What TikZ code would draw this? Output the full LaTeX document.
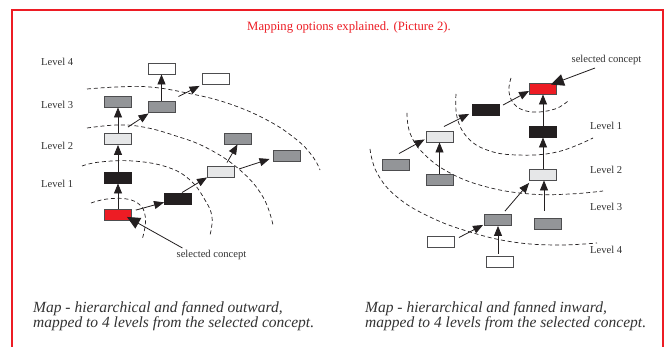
\documentclass[tikz,border=0pt]{standalone}
\usepackage{fontspec}
\setmainfont{Liberation Serif}
\usetikzlibrary{arrows.meta,calc}
\definecolor{cred}{HTML}{ED1C24}
\definecolor{cblk}{HTML}{231F20}
\definecolor{cgry}{HTML}{939598}
\definecolor{clgt}{HTML}{E6E7E8}
\definecolor{cedge}{HTML}{4D4D4F}
\definecolor{ctext}{HTML}{333333}
\begin{document}
\begin{tikzpicture}[x=1pt,y=-1pt,
  box/.style={draw=cedge,line width=0.9pt,minimum width=27pt,minimum height=11pt,inner sep=0pt},
  redbox/.style={box,fill=cred},
  blkbox/.style={box,fill=cblk,draw=cblk},
  grybox/.style={box,fill=cgry},
  lgtbox/.style={box,fill=clgt},
  whtbox/.style={box,fill=white},
  arr/.style={draw=cblk,line width=0.8pt,-{Triangle[length=10pt,width=8pt]}},
  bigarr/.style={draw=cblk,line width=0.8pt,-{Triangle[length=13pt,width=12pt]}},
  dasharc/.style={draw=cblk,line width=0.7pt,dash pattern=on 4pt off 2.8pt},
  lvl/.style={font=\fontsize{10.6}{12}\selectfont,text=ctext,inner sep=0pt,anchor=west},
  lbl/.style={font=\fontsize{10.6}{12}\selectfont,text=ctext,inner sep=0pt},
  captext/.style={font=\fontsize{15.5}{15.5}\selectfont\itshape,text=ctext,inner sep=0pt,anchor=base west},
  ttl/.style={font=\fontsize{12.7}{14}\selectfont,text=cred,inner sep=0pt}
]
\useasboundingbox (0,0) rectangle (668,347);
\fill[white] (0,0) rectangle (668,347);
\draw[cred,line width=1.2pt] (12,360) -- (12,10) -- (663,10) -- (663,360);

\node[ttl] (T) at (349,27) {Mapping options explained. (Picture 2).};

% ---------- left dashed arcs
\draw[dasharc] plot[smooth,tension=0.7] coordinates {(91,203) (107,199) (127,199) (140,205) (145,215) (145,227) (142,240)};
\draw[dasharc] plot[smooth,tension=0.7] coordinates {(82,166) (100,162) (133,161) (167,167) (190,180) (205,200) (212,217) (210,235)};
\draw[dasharc] plot[smooth,tension=0.7] coordinates {(87,128) (117,125) (143,127) (173,135) (207,148) (240,170) (263,197) (273,225)};
\draw[dasharc] plot[smooth,tension=0.7] coordinates {(87,89) (117,87) (150,87) (187,93) (227,103) (267,120) (297,140) (313,157) (320,170)};

% ---------- right dashed arcs
\draw[dasharc] plot[smooth,tension=0.7] coordinates {(511,78) (509,92) (516,106) (533,112) (555,109) (568,101)};
\draw[dasharc] plot[smooth,tension=0.7] coordinates {(456,94) (457,117) (467,137) (487,150) (517,155) (557,152) (593,138)};
\draw[dasharc] plot[smooth,tension=0.7] coordinates {(407,113) (410,133) (423,153) (450,173) (487,187) (530,194) (570,194) (603,191)};
\draw[dasharc] plot[smooth,tension=0.7] coordinates {(370,149) (377,173) (397,197) (430,217) (470,232) (513,242) (557,245) (597,243)};

% ---------- left boxes
\node[redbox] (Lsel) at (118,215) {};
\node[blkbox] (Lb1) at (118,177.5) {};
\node[lgtbox] (Ll2) at (118,139) {};
\node[grybox] (Lg3) at (118,101.5) {};
\node[blkbox] (Lb2) at (178,198.5) {};
\node[lgtbox] (Ll2b) at (221,171.5) {};
\node[grybox] (Lgu) at (237.5,138.5) {};
\node[grybox] (Lgr) at (286.5,155.5) {};
\node[grybox] (Lg3m) at (161.5,106.5) {};
\node[whtbox] (Lw4) at (161.5,68.5) {};
\node[whtbox] (Lwr) at (215.5,79) {};

\node[lvl] (LL4) at (41,62) {Level 4};
\node[lvl] (LL3) at (41,105) {Level 3};
\node[lvl] (LL2) at (41,146) {Level 2};
\node[lvl] (LL1) at (41,184) {Level 1};
\node[lbl] (Lsc) at (211.5,255) {selected concept};

\draw[arr] (Lsel) -- (Lb1);
\draw[arr] (Lb1) -- (Ll2);
\draw[arr] (Ll2) -- (Lg3);
\draw[arr,shorten <=4pt] (Lsel) -- (Lb2);
\draw[arr] ($(Lb2.north)+(4,0)$) -- (Ll2b.south west);
\draw[arr] ($(Ll2b.north)+(6,-3)$) -- (Lgu.south);
\draw[arr] ($(Ll2b.east)+(4,-2.5)$) -- ($(Lgr.west)+(-3,3.5)$);
\draw[arr] ($(Ll2.north east)+(-4,-6)$) -- ($(Lg3m.south west)+(1,1)$);
\draw[arr] (Lg3m) -- (Lw4);
\draw[arr] ($(Lg3m.north east)+(3,-4)$) -- ($(Lwr.south west)+(-2,1)$);
\draw[bigarr] ($(Lsc.north west)+(6,-2)$) -- ($(Lsel.south east)+(-5,-4)$);

% ---------- right boxes
\node[redbox] (Rsel) at (543,88.5) {};
\node[blkbox] (Rb1) at (543,131.5) {};
\node[lgtbox] (Rl2) at (543,174.5) {};
\node[grybox] (Rg3r) at (548,223.5) {};
\node[grybox] (Rg3c) at (498,220) {};
\node[whtbox] (Rw4b) at (499.5,261.5) {};
\node[whtbox] (Rw4l) at (441,241.5) {};
\node[blkbox] (Rblk) at (486,110) {};
\node[lgtbox] (Rlg) at (439.5,136.5) {};
\node[grybox] (Rgl) at (395.5,164.5) {};
\node[grybox] (Rgb) at (439.5,180) {};

\node[lvl] (RL1) at (590,126) {Level 1};
\node[lvl] (RL2) at (590,169.5) {Level 2};
\node[lvl] (RL3) at (590,207) {Level 3};
\node[lvl] (RL4) at (590,250) {Level 4};
\node[lbl] (Rsc) at (606.5,60) {selected concept};

\draw[bigarr] ($(Rsc.south)+(-11.5,3)$) -- ($(Rsel.north east)+(-6,2)$);
\draw[arr] (Rb1) -- (Rsel);
\draw[arr] (Rl2) -- (Rb1);
\draw[arr] ($(Rg3c.north)+(7,-3)$) -- ($(Rl2.south west)+(0,2.5)$);
\draw[arr] ($(Rg3r.north)+(-4,-7)$) coordinate (t1) -- (t1 |- Rl2.south);
\draw[arr] ($(Rw4l.north east)+(4,2)$) -- ($(Rg3c.south west)+(-1,-1)$);
\draw[arr] ($(Rw4b.north)+(-1.5,-2)$) coordinate (t2) -- (t2 |- Rg3c.south);
\draw[arr] ($(Rblk.north east)+(3,1)$) -- ($(Rsel.west)+(0,2.5)$);
\draw[arr] ($(Rlg.north)+(4.5,-4)$) -- ($(Rblk.south west)+(-3,-2)$);
\draw[arr] ($(Rgl.north)+(3.5,-5)$) -- ($(Rlg.south west)+(-1,-3)$);
\draw[arr] (Rgb) -- (Rlg);

% ---------- captions
\node[captext] (C1a) at (33,312) {Map - hierarchical and fanned outward,};
\node[captext] (C1b) at (33,327.5) {mapped to 4 levels from the selected concept.};
\node[captext] (C2a) at (365,312) {Map - hierarchical and fanned inward,};
\node[captext] (C2b) at (365,327.5) {mapped to 4 levels from the selected concept.};
\end{tikzpicture}
\end{document}
